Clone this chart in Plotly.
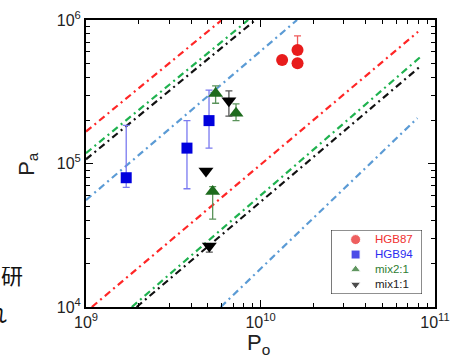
import plotly.graph_objects as go

# ---------------- data ----------------
hgb87_po = [1.33e10, 1.63e10, 1.63e10]
hgb87_pa = [5.26e5, 6.18e5, 4.99e5]
hgb87_err_up = [0, 1.56e5, 0]
hgb87_err_dn = [0, 0, 0]

hgb94_po = [1.70e9, 3.79e9, 5.07e9]
hgb94_pa = [7.96e4, 1.28e5, 1.99e5]
hgb94_err_up = [1.05e5, 7.1e4, 1.26e5]
hgb94_err_dn = [1.14e4, 6.13e4, 7.1e4]

mix21_po = [5.53e9, 7.24e9, 5.32e9]
mix21_pa = [3.08e5, 2.24e5, 6.37e4]
mix21_err_up = [3.9e4, 3.6e4, 5.2e3]
mix21_err_dn = [4.5e4, 2.5e4, 2.27e4]

mix11_po = [6.59e9, 4.87e9, 5.09e9]
mix11_pa = [2.74e5, 8.87e4, 2.66e4]
mix11_err_up = [4.7e4, 0, 1.0e3]
mix11_err_dn = [6.0e4, 0, 2.5e3]

# reference lines (end points, Po / Pa)
red_hi_po = [1.0e9, 6.0e9];     red_hi_pa = [1.67e5, 1.0e6]
green_hi_po = [1.0e9, 8.5e9];   green_hi_pa = [1.18e5, 1.0e6]
black_hi_po = [1.0e9, 9.35e9];  black_hi_pa = [1.07e5, 1.0e6]
blue_hi_po = [1.0e9, 1.62e10];  blue_hi_pa = [5.56e4, 1.0e6]
red_lo_po = [1.08e9, 8.0e10];   red_lo_pa = [1.0e4, 8.28e5]
green_lo_po = [1.83e9, 8.28e10]; green_lo_pa = [1.0e4, 5.55e5]
black_lo_po = [1.95e9, 8.2e10]; black_lo_pa = [1.0e4, 4.73e5]
blue_lo_po = [5.92e9, 7.93e10]; blue_lo_pa = [1.0e4, 2.07e5]

x_tickvals = [1e9, 1e10, 1e11]
x_ticktext = ["10<sup>9</sup>", "10<sup>10</sup>", "10<sup>11</sup>"]
y_tickvals = [1e4, 1e5, 1e6]
y_ticktext = ["10<sup>4</sup>", "10<sup>5</sup>", "10<sup>6</sup>"]

x_title = "P<sub>o</sub>"
y_title = "P<sub>a</sub>"

legend_labels = ["HGB87", "HGB94", "mix2:1", "mix1:1"]
legend_symbols = ["circle", "square", "triangle-up", "triangle-down"]
legend_marker_colors = ["#e81c1c", "#0000dd", "#1d6b1d", "#000000"]
legend_text_colors = ["#f03030", "#2b2bf0", "#2e7d32", "#222222"]

FONT = "Liberation Sans, Arial, sans-serif"

fig = go.Figure()

DASH = "7px,4px,2px,4px"
ref_sets = [
    (red_hi_po, red_hi_pa, "#ff2626"),
    (green_hi_po, green_hi_pa, "#1fb24f"),
    (black_hi_po, black_hi_pa, "#111111"),
    (blue_hi_po, blue_hi_pa, "#5b9bd5"),
    (red_lo_po, red_lo_pa, "#ff2626"),
    (green_lo_po, green_lo_pa, "#1fb24f"),
    (black_lo_po, black_lo_pa, "#111111"),
    (blue_lo_po, blue_lo_pa, "#5b9bd5"),
]
for po, pa, col in ref_sets:
    fig.add_trace(go.Scatter(x=po, y=pa, mode="lines", showlegend=False,
                             line=dict(color=col, width=2.2, dash=DASH),
                             hoverinfo="skip"))


def err(up, dn, col):
    return dict(type="data", symmetric=False, array=up, arrayminus=dn,
                color=col, thickness=1.3, width=3.5)


fig.add_trace(go.Scatter(x=hgb87_po, y=hgb87_pa, mode="markers", name="HGB87",
                         showlegend=False,
                         marker=dict(symbol="circle", size=12, color=legend_marker_colors[0]),
                         error_y=err(hgb87_err_up, hgb87_err_dn, "#ef5a5a")))
fig.add_trace(go.Scatter(x=hgb94_po, y=hgb94_pa, mode="markers", name="HGB94",
                         showlegend=False,
                         marker=dict(symbol="square", size=11, color=legend_marker_colors[1]),
                         error_y=err(hgb94_err_up, hgb94_err_dn, "#7a7af0")))
fig.add_trace(go.Scatter(x=mix21_po, y=mix21_pa, mode="markers", name="mix2:1",
                         showlegend=False,
                         marker=dict(symbol="triangle-up", size=13, color=legend_marker_colors[2]),
                         error_y=err(mix21_err_up, mix21_err_dn, "#5a935a")))
fig.add_trace(go.Scatter(x=mix11_po, y=mix11_pa, mode="markers", name="mix1:1",
                         showlegend=False,
                         marker=dict(symbol="triangle-down", size=13, color=legend_marker_colors[3]),
                         error_y=err(mix11_err_up, mix11_err_dn, "#555555")))

# ---- legend drawn in a small auxiliary axis box ----
LEG_FONT = 11.5
BOX_PX = 64.0
line_h = LEG_FONT * 1.3
n = len(legend_labels)
row_y = [0.5 + ((n - 1) / 2 - i) * line_h / BOX_PX for i in range(n)]
fig.add_trace(go.Scatter(x=[0.27] * n, y=row_y, xaxis="x2", yaxis="y2",
                         mode="markers", showlegend=False, hoverinfo="skip",
                         marker=dict(symbol=legend_symbols, size=[10, 9, 9, 9],
                                     color=legend_marker_colors)))
legend_text = "<br>".join(
    f'<span style="color:{c}">{lab}</span>' for lab, c in zip(legend_labels, legend_text_colors))
fig.add_annotation(x=0.47, y=0.5, xref="x2", yref="y2", text=legend_text,
                   showarrow=False, xanchor="left", yanchor="middle", align="left",
                   borderpad=0,
                   font=dict(family=FONT, size=LEG_FONT, color="#222222"))
fig.add_shape(type="rect", xref="x2", yref="y2", x0=0, x1=1, y0=0, y1=1,
              line=dict(color="#222222", width=1.2), fillcolor="white", layer="below")

# axis titles (placed explicitly so the plot area keeps its size)
fig.add_annotation(x=0.493, y=-0.075, xref="paper", yref="paper", text=x_title,
                   showarrow=False, xanchor="center", yanchor="top", borderpad=0,
                   font=dict(family=FONT, size=22, color="#222222"))
fig.add_annotation(x=-0.168, y=0.5, xref="paper", yref="paper", text=y_title,
                   showarrow=False, xanchor="center", yanchor="middle", textangle=-90,
                   font=dict(family=FONT, size=22, color="#222222"))

# clipped text fragments at the left edge (cut by the page edge in the reference)
fig.add_annotation(x=-0.1748, y=0.115, xref="paper", yref="paper", text="研",
                   showarrow=False, xanchor="right", yanchor="middle",
                   font=dict(family="Noto Sans CJK JP", size=22, color="#111111"))
fig.add_annotation(x=-0.221, y=-0.016, xref="paper", yref="paper", text="れ",
                   showarrow=False, xanchor="right", yanchor="middle",
                   font=dict(family="Noto Sans CJK JP", size=22, color="#111111"))

axis_common = dict(type="log", showline=True, linecolor="black", linewidth=2,
                   mirror="allticks", ticks="inside", ticklen=7, tickwidth=1.4,
                   tickcolor="black", showgrid=False, zeroline=False, automargin=False,
                   tickfont=dict(family=FONT, size=16, color="#222222"))

minor_x = [m * 10 ** e for e in (9, 10) for m in range(2, 10)]
minor_y = [m * 10 ** e for e in (4, 5) for m in range(2, 10)]

fig.update_layout(
    width=452, height=356,
    margin=dict(l=86, r=17, t=20, b=49),
    paper_bgcolor="white", plot_bgcolor="white",
    font=dict(family=FONT, color="#222222"),
    xaxis=dict(**axis_common, range=[9, 11], tickmode="array",
               tickvals=x_tickvals, ticktext=x_ticktext,
               minor=dict(ticks="inside", ticklen=4, tickwidth=1.2, tickcolor="black",
                          tickmode="array", tickvals=minor_x)),
    yaxis=dict(**axis_common, range=[4, 6], tickmode="array",
               tickvals=y_tickvals, ticktext=y_ticktext,
               minor=dict(ticks="inside", ticklen=4, tickwidth=1.2, tickcolor="black",
                          tickmode="array", tickvals=minor_y)),
    xaxis2=dict(domain=[0.702, 0.963], range=[0, 1], anchor="y2", visible=False,
                fixedrange=True),
    yaxis2=dict(domain=[0.0453, 0.2683], range=[0, 1], anchor="x2", visible=False,
                fixedrange=True),
)

fig.write_html("out.html")
